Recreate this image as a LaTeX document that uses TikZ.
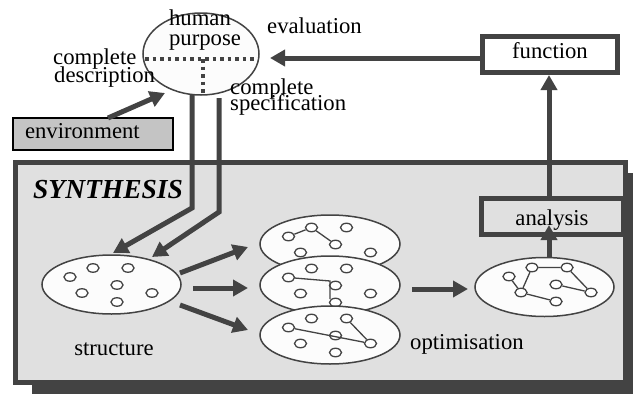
\documentclass[tikz,border=0pt]{standalone}
\usepackage{fontspec}
\setmainfont{Liberation Serif}
\usetikzlibrary{shapes.geometric,arrows.meta}
\definecolor{dk}{HTML}{434343}
\definecolor{synfill}{HTML}{E0E0E0}
\definecolor{envfill}{HTML}{C4C4C4}
\definecolor{ovfill}{HTML}{FCFCFC}
\begin{document}
\begin{tikzpicture}[x=1pt,y=-1pt,
  txt/.style={font=\fontsize{22.7}{22.7}\selectfont, inner sep=0pt},
  flow/.style={draw=dk, line width=5pt, -{Triangle[length=15pt,width=16pt]}},
  dotline/.style={draw=dk, line width=3.5pt, dash pattern=on 3.5pt off 4pt},
  oval/.style={ellipse, draw=dk, line width=1.5pt, fill=ovfill, inner sep=0pt},
  dot/.style={ellipse, draw=dk, line width=1.3pt, fill=white, inner sep=0pt,
              minimum width=12pt, minimum height=8.5pt},
  link/.style={draw=dk, line width=1.3pt},
  heavybox/.style={draw=dk, line width=5pt, inner sep=0pt},
]
\useasboundingbox (0,0) rectangle (633,394);

% synthesis frame with its drop shadow
\fill[dk] (32,173) rectangle (633,394);
\node[heavybox, fill=synfill, minimum width=610pt, minimum height=220pt] (syn) at (320.5,272.5) {};
\node[txt, anchor=base west, font=\fontsize{27.5}{27.5}\selectfont\bfseries\itshape] (synlbl) at (33,198) {SYNTHESIS};

% human purpose
\node[oval, minimum width=116pt, minimum height=82pt] (hp) at (201,54) {};
\draw[dotline] (145,59) -- (258,59);
\draw[dotline] (203,59) -- (203,94);
\node[txt, anchor=base] (human) at (200,25) {human};
\node[txt, anchor=base] (purpose) at (205,45) {purpose};
\node[txt, anchor=base west] (cd1) at (53,64) {complete};
\node[txt, anchor=base west] (cd2) at (54,82) {description};
\node[txt, anchor=base west] (eval) at (267,33) {evaluation};
\node[txt, anchor=base west] (cs1) at (230,94) {complete};
\node[txt, anchor=base west] (cs2) at (230,110) {specification};

% environment
\node[draw=black, line width=2pt, fill=envfill, minimum width=160pt, minimum height=32pt,
      inner xsep=12pt, text width=136pt, align=left, text height=12pt, text depth=4pt,
      font=\fontsize{22.7}{22.7}\selectfont] (env) at (93,134) {environment};

% function
\node[heavybox, fill=white, minimum width=135pt, minimum height=36pt,
      text height=11pt, text depth=4pt, font=\fontsize{22.7}{22.7}\selectfont] (func) at (550,54.5) {function};

% analysis
\node[heavybox, fill=synfill, minimum width=142pt, minimum height=36pt,
      text height=18pt, text depth=0pt, font=\fontsize{22.7}{22.7}\selectfont] (ana) at (552,216.5) {analysis};

% structure
\node[oval, minimum width=139pt, minimum height=59pt] (st) at (111.5,284.5) {};
\foreach \n/\dx/\dy in {a/-41.5/-7.5, b/-18.5/-16.5, c/16.5/-16.5, d/5.5/0.5, e/-29.5/8.5, f/5.5/17.5, g/40.5/8.5}
  \node[dot] (s\n) at (111.5+\dx,284.5+\dy) {};
\node[txt, anchor=base] (stlbl) at (114,355) {structure};

% stacked variants
\node[oval, minimum width=140pt, minimum height=58pt] (v1) at (330,244) {};
\foreach \n/\dx/\dy in {a/-41.5/-7.5, b/-18.5/-16.5, c/16.5/-16.5, d/5.5/0.5, e/-29.5/8.5, g/40.5/8.5}
  \node[dot] (t\n) at (330+\dx,244+\dy) {};
\draw[link] (ta) -- (tb) (tb) -- (td);

\node[oval, minimum width=140pt, minimum height=58pt] (v2) at (330,285) {};
\foreach \n/\dx/\dy in {a/-41.5/-7.5, b/-18.5/-16.5, c/16.5/-16.5, d/5.5/0.5, e/-29.5/8.5, f/5.5/17.5, g/40.5/8.5}
  \node[dot] (m\n) at (330+\dx,285+\dy) {};
\coordinate (mk1) at (330,281);
\coordinate (mk2) at (330,299);
\draw[link] (ma) -- (mk1) -- (mk2);

\node[oval, minimum width=140pt, minimum height=58pt] (v3) at (330,335) {};
\foreach \n/\dx/\dy in {a/-41.5/-7.5, b/-18.5/-16.5, c/16.5/-16.5, d/5.5/0.5, e/-29.5/8.5, f/5.5/17.5, g/40.5/8.5}
  \node[dot] (b\n) at (330+\dx,335+\dy) {};
\draw[link] (ba) -- (bg) (bc) -- (bg);
\node[txt, anchor=base west] (optlbl) at (410,349) {optimisation};

% chosen solution
\node[oval, minimum width=139pt, minimum height=59pt] (fin) at (544.5,287) {};
\foreach \n/\dx/\dy in {a/-41.5/-7.5, b/-18.5/-16.5, c/16.5/-16.5, d/5.5/0.5, e/-29.5/8.5, f/5.5/17.5, g/40.5/8.5}
  \node[dot] (f\n) at (550.5+\dx,284+\dy) {};
\draw[link] (fa) -- (fe) (fe) -- (fb) (fe) -- (ff) (fb) -- (fc) (fc) -- (fg) (fd) -- (fg);

% connectors
\coordinate (evtip) at (270,58);
\draw[flow] (func.west |- evtip) -- (evtip);
\coordinate (upx) at (549,0);
\draw[flow] (ana.north -| upx) -- (func.south -| upx);
\coordinate (anatip) at (549,225);
\draw[flow] (fin.north -| upx) -- (anatip);
\coordinate (envstart) at (108,118);
\coordinate (envtip) at (165,93);
\draw[flow] (envstart) -- (envtip);

\coordinate (d1a) at (192,95);
\coordinate (d1b) at (192,208);
\coordinate (d1t) at (113,253);
\draw[flow] (d1a) -- (d1b) -- (d1t);
\coordinate (d2a) at (219,98);
\coordinate (d2b) at (219,212);
\coordinate (d2t) at (152,257);
\draw[flow] (d2a) -- (d2b) -- (d2t);

\coordinate (o1s) at (180,273); \coordinate (o1t) at (248,247);
\coordinate (o2s) at (193,288); \coordinate (o2t) at (248,288);
\coordinate (o3s) at (180,305); \coordinate (o3t) at (248,330);
\draw[flow] (o1s) -- (o1t);
\draw[flow] (o2s) -- (o2t);
\draw[flow] (o3s) -- (o3t);

\coordinate (optstart) at (412,289);
\coordinate (opttip) at (468,289);
\draw[flow] (optstart) -- (opttip);
\end{tikzpicture}
\end{document}
